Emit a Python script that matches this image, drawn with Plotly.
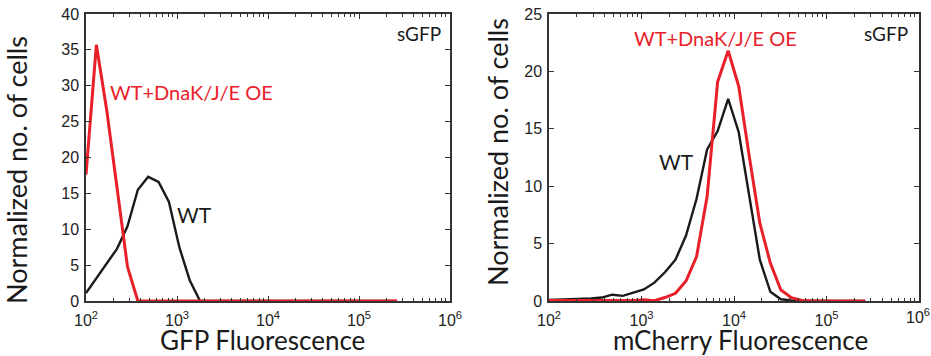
import plotly.graph_objects as go

# Histogram bin centres (fluorescence, a.u.); shared by both panels
bins = [100, 130, 169, 219.7, 285.6, 371.3, 482.7, 627.5, 815.8, 1060.6,
        1378.7, 1792.3, 2330, 3029, 3938, 5119, 6655, 8652, 11248, 14623,
        19011, 24715, 32130, 41770, 54300, 70590, 91770, 119300, 155100,
        201600, 262144]

# GFP channel
gfp_wt = [1.1, 3.2, 5.2, 7.3, 10.4, 15.5, 17.3, 16.6, 13.8, 7.5,
          2.9, 0, 0, 0, 0, 0, 0, 0, 0, 0,
          0, 0, 0, 0, 0, 0, 0, 0, 0, 0, 0]
gfp_oe = [17.6, 35.7, 26.6, 15.9, 4.8, 0, 0, 0, 0, 0,
          0, 0, 0, 0, 0, 0, 0, 0, 0, 0,
          0, 0, 0, 0, 0, 0, 0, 0, 0, 0, 0]

# mCherry channel
mch_wt = [0.1, 0.12, 0.15, 0.18, 0.22, 0.3, 0.55, 0.45, 0.75, 1.0,
          1.6, 2.5, 3.6, 5.7, 8.9, 13.2, 14.8, 17.6, 14.7, 9.0,
          3.6, 0.8, 0.15, 0.05, 0.02, 0, 0, 0, 0, 0, 0]
mch_oe = [0.05, 0.05, 0.02, 0.02, 0.02, 0.05, 0.05, 0.05, 0.05, 0.1,
          0.03, 0.3, 0.67, 1.74, 3.86, 9.1, 19.1, 21.8, 18.7, 12.6,
          6.8, 3.3, 0.96, 0.29, 0.05, 0, 0, 0, 0, 0, 0]

decades = [1e2, 1e3, 1e4, 1e5, 1e6]
decade_text = ["10<sup>2</sup>", "10<sup>3</sup>", "10<sup>4</sup>",
               "10<sup>5</sup>", "10<sup>6</sup>"]

RED = "#e8202a"
BLACK = "#1a1a1a"
AXIS = "#333333"
TICK_FONT = dict(family="Liberation Sans, Arial", size=16, color="#222222")
LABEL_FONT = "Lato, Noto Sans, sans-serif"

W, H = 931, 356


def px(x):
    return x / W


def py(y):
    return 1 - y / H


fig = go.Figure()
fig.add_trace(go.Scatter(x=bins, y=gfp_wt, mode="lines",
                         line=dict(color=BLACK, width=2.4), xaxis="x", yaxis="y"))
fig.add_trace(go.Scatter(x=bins, y=gfp_oe, mode="lines",
                         line=dict(color=RED, width=3), xaxis="x", yaxis="y"))
fig.add_trace(go.Scatter(x=bins, y=mch_wt, mode="lines",
                         line=dict(color=BLACK, width=2.4), xaxis="x2", yaxis="y2"))
fig.add_trace(go.Scatter(x=bins, y=mch_oe, mode="lines",
                         line=dict(color=RED, width=3), xaxis="x2", yaxis="y2"))

xcommon = dict(type="log", range=[2, 6], tickvals=decades,
               ticks="inside", ticklen=5, tickwidth=1, tickcolor=AXIS,
               showline=True, linecolor=AXIS, linewidth=1.5, mirror="ticks",
               showgrid=False, zeroline=False, tickfont=TICK_FONT,
               automargin=False, ticklabelstandoff=4,
               minor=dict(ticks="inside", ticklen=3, tickcolor=AXIS,
                          dtick="D1", showgrid=False))
ycommon = dict(ticks="inside", ticklen=5, tickwidth=1, tickcolor=AXIS,
               showline=True, linecolor=AXIS, linewidth=1.5, mirror="ticks",
               showgrid=False, zeroline=False, tickfont=TICK_FONT, dtick=5,
               automargin=False, ticklabelstandoff=2)

# The last decade label of the right panel sits at the page edge, where the
# axis would drop it, so it is drawn as a separate note instead.
right_text = decade_text[:-1] + [""]

ydom = [py(301), py(14)]
fig.update_layout(
    width=W, height=H, margin=dict(l=0, r=0, t=0, b=0, autoexpand=False),
    paper_bgcolor="white", plot_bgcolor="white", showlegend=False,
    xaxis=dict(domain=[px(86), px(450)], anchor="y", ticktext=decade_text,
               **xcommon),
    yaxis=dict(domain=ydom, anchor="x", range=[0, 40], **ycommon),
    xaxis2=dict(domain=[px(549), px(919)], anchor="y2", ticktext=right_text,
                **xcommon),
    yaxis2=dict(domain=ydom, anchor="x2", range=[0, 25], **ycommon),
)


def note(text, x, y, size, color="#1a1a1a", angle=0):
    fig.add_annotation(text=text, x=px(x), y=py(y), xref="paper", yref="paper",
                       xanchor="center", yanchor="middle", showarrow=False,
                       textangle=angle, borderpad=0,
                       font=dict(family=LABEL_FONT, size=size, color=color))


# Left panel labels
note("sGFP", 419, 33, 19)
note("WT+DnaK/J/E OE", 191, 92, 20, RED)
note("WT", 194, 214, 21)
note("GFP Fluorescence", 262, 340, 26)
note("Normalized no. of cells", 17, 170, 27, angle=-90)

# Right panel labels
note("sGFP", 886, 33, 19)
note("WT+DnaK/J/E OE", 715, 38, 20, RED)
note("WT", 676, 161, 21)
note("mCherry Fluorescence", 740, 340, 26)
note("Normalized no. of cells", 498, 152, 27, angle=-90)

# Right panel's 10^6 tick label, pinned to the right page edge
fig.add_annotation(text=decade_text[-1], x=1.0, xref="paper",
                   y=py(316), yref="paper", xanchor="right",
                   yanchor="middle", showarrow=False, borderpad=0,
                   font=TICK_FONT)

fig.write_html("out.html")
